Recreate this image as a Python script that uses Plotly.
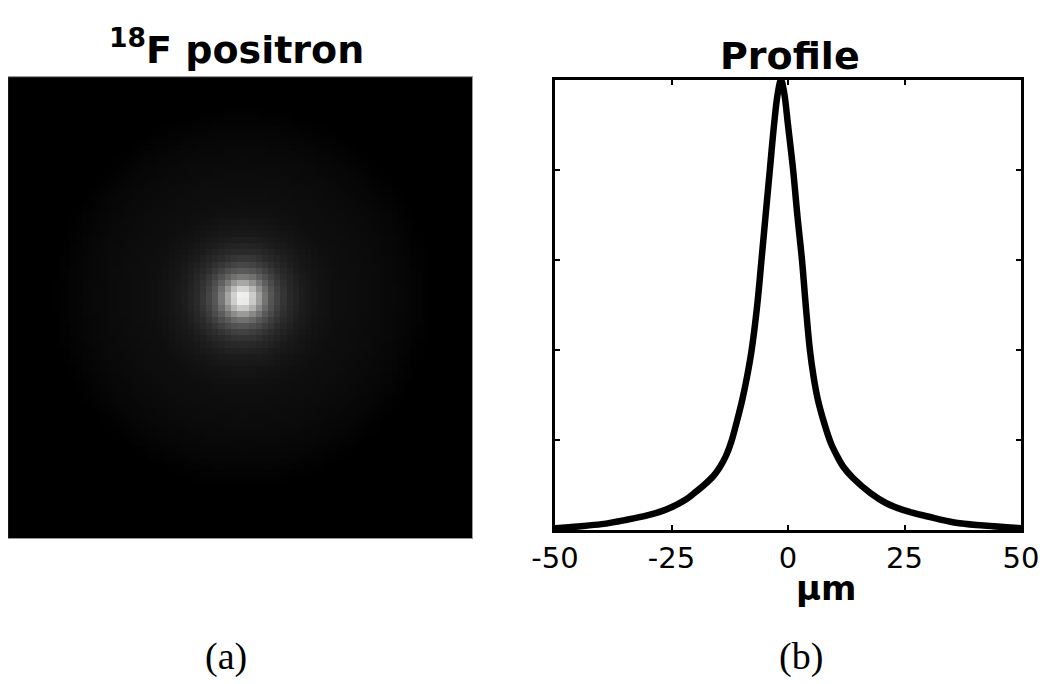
import numpy as np
import plotly.graph_objects as go

# (b) perfil: posicao em um e intensidade normalizada
perfil_x = [-50, -45, -40, -35, -30, -26, -22, -20, -18, -16, -14.6, -13.3, -12.2, -11.0,
            -9.8, -8.8, -7.8, -6.6, -5.6, -4.8, -3.9, -3.0, -2.2, -1.5, -0.8,
            0.0, 1.1, 2.0, 3.0, 3.8, 4.7, 5.5, 6.4, 7.7, 9.2, 10.5, 11.9, 14,
            17.7, 21, 24.8, 30, 36, 42, 50]
perfil_y = [0.004, 0.008, 0.013, 0.022, 0.033, 0.046, 0.067, 0.083, 0.100, 0.120, 0.140,
            0.165, 0.195, 0.240, 0.290, 0.340, 0.400, 0.500, 0.610, 0.700, 0.800,
            0.900, 0.970, 1.000, 0.970, 0.900, 0.800, 0.700, 0.600, 0.500, 0.400, 0.340,
            0.290, 0.240, 0.193, 0.165, 0.140, 0.115, 0.082, 0.060, 0.044, 0.030,
            0.016, 0.010, 0.004]
x_ticks = [-50, -25, 0, 25, 50]
y_ticks = [0, 0.2, 0.4, 0.6, 0.8, 1.0]

# (a) imagem: brilho (0-1) em funcao do raio em um
raio_um = [0, 1.5, 3, 4.5, 6, 8, 10, 13, 16, 20, 25, 30, 34, 37, 40, 42]
brilho = [1.0, 0.92, 0.75, 0.55, 0.40, 0.28, 0.20, 0.14, 0.11, 0.085, 0.07, 0.055, 0.04, 0.025, 0.008, 0.0]
centro_um = (0.6, 2.2)
n_pix = 75

# grade da imagem montada a partir do perfil radial
eixo = np.linspace(-50, 50, n_pix)
gx, gy = np.meshgrid(eixo, eixo)
r = np.hypot(gx - centro_um[0], gy - centro_um[1])
imagem = np.interp(r, raio_um, brilho)

# a pagina desloca a figura 8 px (margem do body)
W, H, OFF = 1042, 676, 8
px = lambda X: (X - OFF) / W
py = lambda Y: 1 - (Y - OFF) / H

fig = go.Figure()
fig.add_trace(go.Heatmap(x=eixo, y=eixo, z=imagem, colorscale='gray', zmin=0, zmax=1,
                         showscale=False, zsmooth=False, xaxis='x', yaxis='y'))
fig.add_trace(go.Scatter(x=perfil_x, y=perfil_y, mode='lines', line=dict(color='black', width=6.5),
                         line_shape='spline', xaxis='x2', yaxis='y2', showlegend=False))

eixo_img = dict(showticklabels=False, ticks='', showgrid=False, zeroline=False, automargin=False,
                showline=True, linecolor='#999999', linewidth=1, mirror=True)
fig.update_layout(
    width=W, height=H, margin=dict(l=0, r=0, t=0, b=0),
    paper_bgcolor='white', plot_bgcolor='white', showlegend=False,
    xaxis=dict(domain=[px(8), px(472)], range=[-50.7, 50.7], **eixo_img),
    yaxis=dict(domain=[py(538), py(77)], range=[-50.7, 50.7], **eixo_img),
    xaxis2=dict(domain=[px(555), px(1021)], range=[-50, 50], tickvals=x_ticks,
                ticktext=[str(v) for v in x_ticks], ticks='inside', ticklen=5, tickwidth=2,
                tickcolor='black', showgrid=False, zeroline=False, showline=True, automargin=False,
                linecolor='black', linewidth=3, mirror='allticks', anchor='y2',
                tickfont=dict(family='DejaVu Sans', size=29, color='black')),
    yaxis2=dict(domain=[py(530), py(80)], range=[0, 1.0], tickvals=y_ticks, automargin=False,
                showticklabels=False, ticks='inside', ticklen=5, tickwidth=2, tickcolor='black',
                showgrid=False, zeroline=False, showline=True, linecolor='black', linewidth=3,
                mirror='allticks', anchor='x2'),
)

titulo = dict(family='DejaVu Sans', size=38, color='black')
fig.add_annotation(text='<b><sup>18</sup>F positron</b>', x=px(236), y=py(47), xref='paper',
                   yref='paper', showarrow=False, font=titulo, xanchor='center', yanchor='middle')
fig.add_annotation(text='<b>Profile</b>', x=px(790), y=py(56), xref='paper', yref='paper',
                   showarrow=False, font=titulo, xanchor='center', yanchor='middle')
fig.add_annotation(text='<b>µm</b>', x=px(826), y=py(588), xref='paper', yref='paper',
                   showarrow=False, font=dict(family='DejaVu Sans', size=34, color='black'),
                   xanchor='center', yanchor='middle')
rotulo = dict(family='Liberation Serif', size=38, color='black')
fig.add_annotation(text='(a)', x=px(226), y=py(656), xref='paper', yref='paper',
                   showarrow=False, font=rotulo, xanchor='center', yanchor='middle')
fig.add_annotation(text='(b)', x=px(801), y=py(656), xref='paper', yref='paper',
                   showarrow=False, font=rotulo, xanchor='center', yanchor='middle')

fig.write_html("out.html")
